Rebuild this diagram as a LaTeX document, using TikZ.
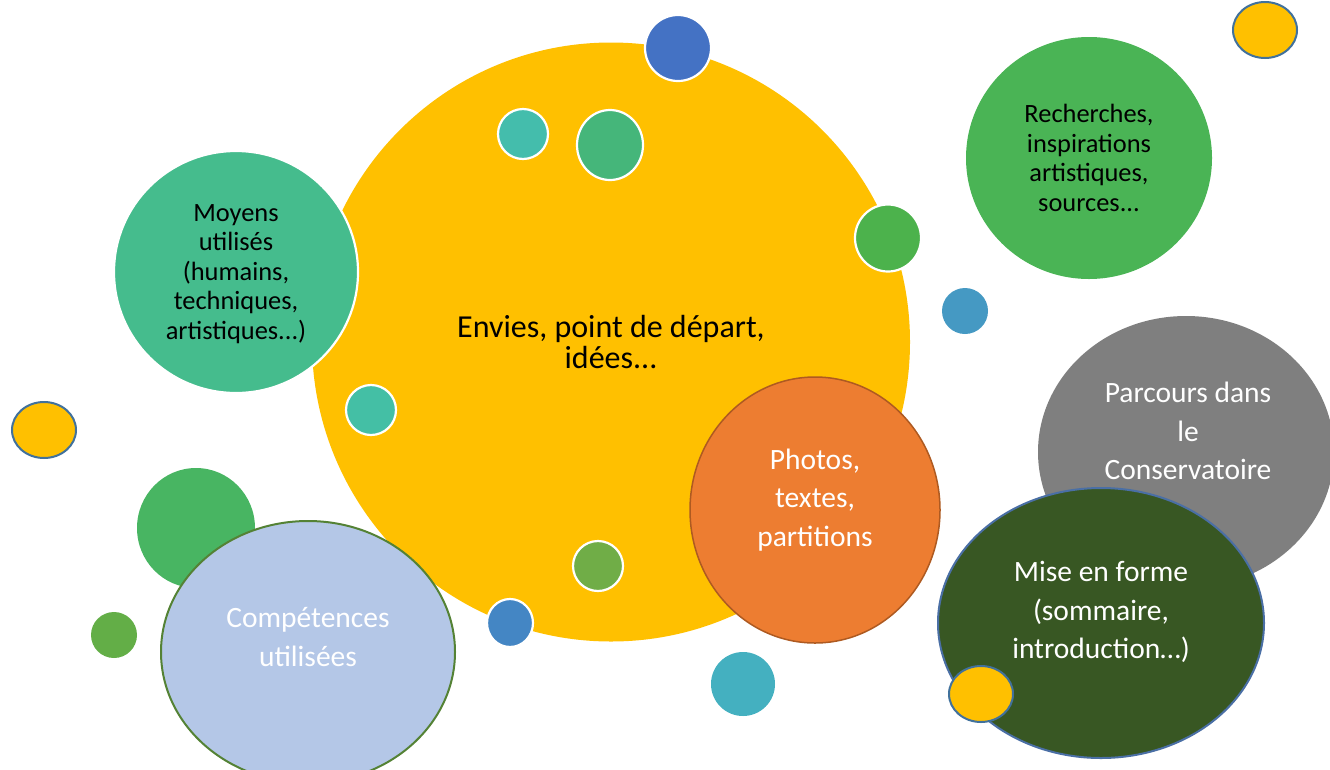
\documentclass[tikz,border=0pt]{standalone}
\usepackage{fontspec}
\setmainfont{Carlito}
\usetikzlibrary{shapes.geometric}
\definecolor{cyellow}{HTML}{FFC000}
\definecolor{cblueA}{HTML}{4472C4}
\definecolor{cteal1}{HTML}{44BDAC}
\definecolor{cgreen1}{HTML}{45B67A}
\definecolor{cmoyens}{HTML}{45BC8D}
\definecolor{cgreen2}{HTML}{4CB24C}
\definecolor{crech}{HTML}{4AB455}
\definecolor{cbord}{HTML}{41719C}
\definecolor{cblue2}{HTML}{4599C3}
\definecolor{cgray}{HTML}{7F7F7F}
\definecolor{corange}{HTML}{ED7D31}
\definecolor{corangeb}{HTML}{AE5A21}
\definecolor{cdark}{HTML}{385723}
\definecolor{cdarkb}{HTML}{4A6FA5}
\definecolor{cteal2}{HTML}{44B0C0}
\definecolor{ccomp}{HTML}{B4C7E7}
\definecolor{ccompb}{HTML}{548235}
\definecolor{cgreen3}{HTML}{48B562}
\definecolor{cgreen4}{HTML}{63AE47}
\definecolor{cteal3}{HTML}{44BFA5}
\definecolor{colive}{HTML}{70AD47}
\definecolor{cblue3}{HTML}{4486C4}
\tikzset{
  bub/.style n args={3}{ellipse, inner sep=0pt, minimum width=#1pt, minimum height=#2pt, fill=#3},
  wb/.style={draw=white, line width=2.2pt},
  bb/.style={draw=cbord, line width=2pt},
  lab/.style={align=center, inner sep=0pt, font=\fontsize{26.4}{29.5}\selectfont},
  wlab/.style={align=center, inner sep=0pt, text=white, font=\fontsize{29.5}{38.5}\selectfont},
}
\begin{document}
\begin{tikzpicture}[x=1pt,y=-1pt]
\useasboundingbox (0,0) rectangle (1330,769);
% main yellow
\node[bub={598}{599}{cyellow}] (main) at (611,342) {};
\node[bub={66}{66}{cblueA}, wb] (b1) at (678,48) {};
\node[bub={50}{50}{cteal1}, wb] (b2) at (523,134) {};
\node[bub={66}{70}{cgreen1}, wb] (b3) at (610,145) {};
\node[bub={244}{242}{cmoyens}, wb] (moy) at (236,272) {};
\node[bub={66}{67}{cgreen2}, wb] (b4) at (888,238) {};
\node[bub={246}{242}{crech}] (rech) at (1089,158) {};
\node[bub={64}{56}{cyellow}, bb] (b5) at (1265,30) {};
\node[bub={46}{46}{cblue2}] (b6) at (965,311) {};
\node[bub={296}{272}{cgray}] (parc) at (1186,452) {};
\node[bub={250}{266}{corange}, draw=corangeb, line width=1.5pt] (phot) at (815,510) {};
\node[bub={326}{270}{cdark}, draw=cdarkb, line width=2pt] (mise) at (1101,623) {};
\node[bub={64}{56}{cyellow}, bb] (b7) at (981,694) {};
\node[bub={64}{64}{cteal2}] (b8) at (743,684) {};
\node[bub={118}{120}{cgreen3}] (b9) at (196,528) {};
\node[bub={294}{262}{ccomp}, draw=ccompb, line width=2pt] (comp) at (308,652) {};
\node[bub={46}{46}{cgreen4}] (b10) at (114,635) {};
\node[bub={64}{56}{cyellow}, bb] (b11) at (44,430) {};
\node[bub={50}{50}{cteal3}, wb] (b12) at (371,410) {};
\node[bub={50}{50}{colive}, wb] (b13) at (598,566) {};
\node[bub={46}{48}{cblue3}, wb] (b14) at (510,623) {};
% labels
\node[lab, font=\fontsize{32}{31}\selectfont] (tmain) at (611,342) {Envies, point de départ,\\idées...};
\node[lab] (tmoy) at (236,274) {Moyens\\utilisés\\(humains,\\techniques,\\artistiques...)};
\node[lab] (trech) at (1089,158) {Recherches,\\inspirations\\artistiques,\\sources...};
\node[wlab] (tparc) at (1188,431) {Parcours dans\\le\\Conservatoire};
\node[wlab] (tphot) at (815,500) {Photos,\\textes,\\partitions};
\node[wlab] (tcomp) at (308,637) {Compétences\\utilisées};
\node[wlab] (tmise) at (1101,612) {Mise en forme\\(sommaire,\\introduction…)};
\end{tikzpicture}
\end{document}
